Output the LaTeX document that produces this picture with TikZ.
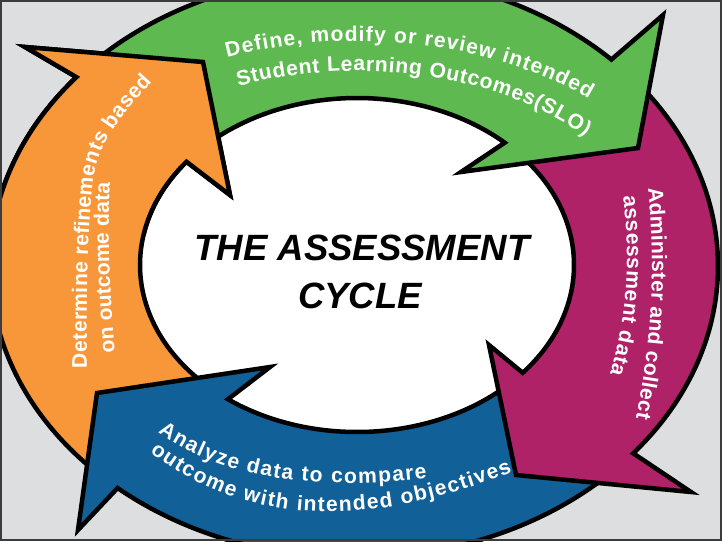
\documentclass[tikz,border=0pt]{standalone}
\usepackage{fontspec}
\setmainfont{Liberation Sans}
\usetikzlibrary{calc,decorations.text}

\definecolor{bggray}{RGB}{221,222,224}
\definecolor{framegray}{RGB}{60,60,60}
\definecolor{slogreen}{RGB}{94,185,80}
\definecolor{slomagenta}{RGB}{176,34,104}
\definecolor{sloblue}{RGB}{17,96,152}
\definecolor{sloorange}{RGB}{248,151,58}
\newcommand{\arrowfont}{\fontsize{15}{18}\selectfont\bfseries}

\begin{document}
\begin{tikzpicture}[x=0.025cm, y=-0.025cm,
  rim/.style={draw=black, line width=3.2pt, line join=miter, miter limit=8},
  outerrim/.style={x radius=364, y radius=292},
  innerrim/.style={x radius=217, y radius=167},
  pathtext/.style={decorate, decoration={text along path, text align={fit to path}, text color=white, text={|\arrowfont|#1}}},
  titletext/.style={font=\fontsize{26}{30}\selectfont\bfseries\itshape, anchor=base, inner sep=0pt}]
  \useasboundingbox (0,0) rectangle (722,541);
  \coordinate (Co) at (354,266);
  \coordinate (Ci) at (357,265);
  \begin{scope}
    \clip (0,0) rectangle (722,541);
    \fill[bggray] (0,0) rectangle (722,541);
    \fill[white] (Ci) ellipse [innerrim];
    \draw[rim, fill=sloorange, save path=\orangepath] ($(Co)+(135:364 and 292)$) arc[outerrim, start angle=135, end angle=220.3]
      -- (25,47) -- (203,62) -- (230,195) -- ($(Ci)+(218.2:217 and 167)$) arc[innerrim, start angle=218.2, end angle=135] -- cycle;
    \draw[rim, fill=sloblue] ($(Co)+(45:364 and 292)$) arc[outerrim, start angle=45, end angle=130.5]
      -- (78,530) -- (97,393) -- (270,367) -- ($(Ci)+(126.5:217 and 167)$) arc[innerrim, start angle=126.5, end angle=45] -- cycle;
    \draw[rim, fill=slomagenta] ($(Co)+(-42:364 and 292)$) arc[outerrim, start angle=-42, end angle=39.9]
      -- (691,492) -- (516,475) -- (489,345) -- ($(Ci)+(40.2:217 and 167)$) arc[innerrim, start angle=40.2, end angle=-42] -- cycle;
    \draw[rim, fill=slogreen] ($(Co)+(-138:364 and 292)$) arc[outerrim, start angle=-138, end angle=-45]
      -- (663,15) -- (638,148) -- (461,172) -- ($(Ci)+(-47.1:217 and 167)$) arc[innerrim, start angle=-47.1, end angle=-138] -- cycle;
    % orange head lies over the green tail
    \begin{scope}
      \clip (-10,-10) rectangle (265,235);
      \draw[rim, fill=sloorange, use path=\orangepath];
    \end{scope}

    \path[pathtext={Define, modify or review intended}] ($(Ci)+(-112.1:345 and 224)$) arc[start angle=-112.1, end angle=-47.8, x radius=345, y radius=224];
    \path[pathtext={Student Learning Outcomes(SLO)}] ($(Ci)+(-112.9:305 and 194)$) arc[start angle=-112.9, end angle=-41.6, x radius=305, y radius=194];
    \path[pathtext={Administer and collect}] (648,188) .. controls (656,265) and (652,341) .. (636,418);
    \path[pathtext={assessment data}] (623,196) .. controls (631,258) and (627,317) .. (610,374);
    \path[pathtext={Analyze data to compare}] (158,432) .. controls (220,477) and (310,492) .. (427,478);
    \path[pathtext={outcome with intended objectives}] (150,452) .. controls (243,524) and (363,531) .. (512,472);
    \path[pathtext={Determine refinements based}] (87,368) .. controls (86,290) and (88,230) .. (92,190)
      .. controls (95,150) and (112,125) .. (152,82);
    \path[pathtext={on outcome data}] (115,352) .. controls (110,300) and (107,225) .. (110,183);

    \node[titletext] (title) at (362,260) {THE ASSESSMENT};
    \node[titletext] (cycle) at (360,308) {CYCLE};
  \end{scope}
  \draw[framegray, line width=1.4pt] (1,1) rectangle (721,540);
\end{tikzpicture}
\end{document}
